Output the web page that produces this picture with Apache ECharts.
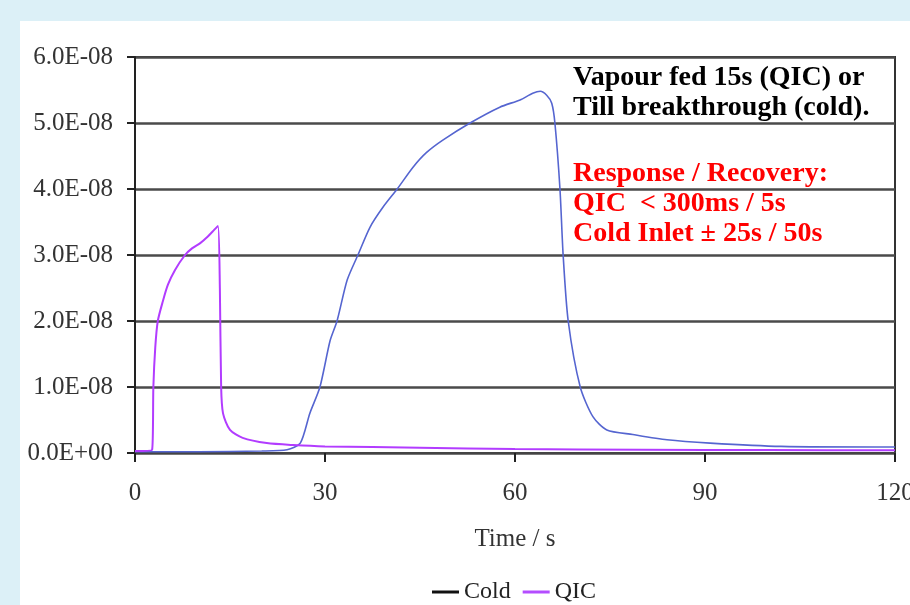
<!DOCTYPE html>
<html>
<head>
<meta charset="utf-8">
<script src="https://cdn.jsdelivr.net/npm/echarts@6/dist/echarts.min.js"></script>
<style>
  html, body { margin: 0; padding: 0; background: #dcf0f7; }
  #chart { width: 910px; height: 605px; }
</style>
</head>
<body>
<div id="chart"></div>
<script>
// values (time in s, signal in arbitrary units)
const coldTime = [0, 10, 20, 24, 26.1, 27.6, 29.2, 30.8, 31.9, 33.5, 35.2, 37.1, 39.2, 41.4, 43.9, 46, 48.6, 52.9, 57.6, 60.8, 62.8, 64, 65, 65.8, 66.3, 67.1, 67.6, 68.4, 70.3, 72.3, 74.5, 78.6, 84, 90.8, 102, 120];
const coldSignal = [0.02e-8, 0.02e-8, 0.03e-8, 0.05e-8, 0.15e-8, 0.6e-8, 1.0e-8, 1.7e-8, 2.0e-8, 2.62e-8, 3.0e-8, 3.42e-8, 3.73e-8, 4.0e-8, 4.33e-8, 4.55e-8, 4.74e-8, 5.0e-8, 5.24e-8, 5.35e-8, 5.45e-8, 5.48e-8, 5.42e-8, 5.3e-8, 5.0e-8, 4.0e-8, 3.0e-8, 2.0e-8, 1.0e-8, 0.55e-8, 0.35e-8, 0.28e-8, 0.2e-8, 0.15e-8, 0.1e-8, 0.09e-8];

const qicTime = [0, 2.7, 2.9, 3.2, 3.6, 4.4, 5.2, 6.3, 7.9, 9, 10.3, 11.5, 12.5, 13.1, 13.4, 13.6, 13.9, 15, 17, 20.8, 25, 30, 45, 60, 80, 100, 120];
const qicSignal = [0.03e-8, 0.05e-8, 1.0e-8, 1.6e-8, 2.0e-8, 2.3e-8, 2.55e-8, 2.77e-8, 3.0e-8, 3.1e-8, 3.18e-8, 3.28e-8, 3.38e-8, 3.44e-8, 2.5e-8, 1.0e-8, 0.6e-8, 0.35e-8, 0.23e-8, 0.15e-8, 0.12e-8, 0.1e-8, 0.08e-8, 0.06e-8, 0.05e-8, 0.045e-8, 0.04e-8];

const xTicks = [0, 30, 60, 90, 120];
const yTicks = [0, 1e-8, 2e-8, 3e-8, 4e-8, 5e-8, 6e-8];

const noteBlack = "Vapour fed 15s (QIC) or\nTill breakthrough (cold).";
const noteRed = "Response / Recovery:\nQIC  < 300ms / 5s\nCold Inlet \u00b1 25s / 50s";

const pairs = (xs, ys) => xs.map((x, i) => [x, ys[i]]);

// 6.0E-08 style labels
function sci(v) {
  if (Math.abs(v) < 1e-20) return "0.0E+00";
  let e = Math.floor(Math.log10(Math.abs(v)) + 1e-9);
  let m = v / Math.pow(10, e);
  let sign = e < 0 ? "-" : "+";
  let ee = String(Math.abs(e)).padStart(2, "0");
  return m.toFixed(1) + "E" + sign + ee;
}

const serif = "'Liberation Serif', 'DejaVu Serif', serif";
let chart = echarts.init(document.getElementById("chart"));

let option = {
  backgroundColor: "#dcf0f7",
  animation: false,
  textStyle: { fontFamily: serif },
  graphic: [
    {
      type: "rect",
      z: -10,
      shape: { x: 20, y: 21, width: 900, height: 600 },
      style: { fill: "#ffffff" },
    },
    {
      type: "text",
      z: 100,
      style: {
        x: 573, y: 63, text: noteBlack,
        font: "bold 28px " + serif, fill: "#000", lineHeight: 30,
        verticalAlign: "top",
      },
    },
    {
      type: "text",
      z: 100,
      style: {
        x: 573, y: 159, text: noteRed,
        font: "bold 28px " + serif, fill: "#ff0000", lineHeight: 30,
        verticalAlign: "top",
      },
    },
  ],
  grid: {
    left: 135,
    right: 15,
    top: 57,
    bottom: 152,
    outerBoundsMode: "none",
    show: true,
    borderColor: "#333",
    borderWidth: 2,
    backgroundColor: "transparent",
  },
  legend: {
    top: 575,
    left: 427,
    icon: "rect",
    itemWidth: 27,
    itemHeight: 3,
    itemGap: 12,
    textStyle: { fontFamily: serif, fontSize: 24, color: "#222" },
    data: [
      { name: "Cold", itemStyle: { color: "#111" } },
      { name: "QIC", itemStyle: { color: "#b44dff" } },
    ],
  },
  xAxis: {
    type: "value",
    min: xTicks[0],
    max: xTicks[xTicks.length - 1],
    interval: 30,
    name: "Time / s",
    nameLocation: "middle",
    nameGap: 74,
    nameTextStyle: { fontFamily: serif, fontSize: 25, color: "#333" },
    axisLine: { show: true, lineStyle: { color: "#444", width: 2 } },
    axisTick: { show: true, length: 9, lineStyle: { color: "#222", width: 2 } },
    axisLabel: { fontFamily: serif, fontSize: 25, color: "#333", margin: 28 },
    splitLine: { show: false },
  },
  yAxis: {
    type: "value",
    min: yTicks[0],
    max: yTicks[yTicks.length - 1],
    interval: 1e-8,
    axisLine: { show: true, lineStyle: { color: "#222", width: 2 } },
    axisTick: { show: true, length: 8, lineStyle: { color: "#222", width: 2 } },
    axisLabel: {
      fontFamily: serif, fontSize: 25, color: "#333", margin: 22,
      formatter: sci,
    },
    splitLine: { show: true, lineStyle: { color: "#4a4a4a", width: 2.5 } },
  },
  series: [
    {
      name: "Cold",
      type: "line",
      showSymbol: false,
      smooth: 0.25,
      color: "#5565d0",
      lineStyle: { color: "#5565d0", width: 1.6 },
      data: pairs(coldTime, coldSignal),
      z: 3,
    },
    {
      name: "QIC",
      type: "line",
      showSymbol: false,
      smooth: 0.25,
      color: "#b44dff",
      lineStyle: { color: "#b23cff", width: 2 },
      data: pairs(qicTime, qicSignal),
      z: 4,
    },
  ],
};
chart.setOption(option);

window.addEventListener("resize", function () {
  chart.resize();
});
</script>
</body>
</html>
